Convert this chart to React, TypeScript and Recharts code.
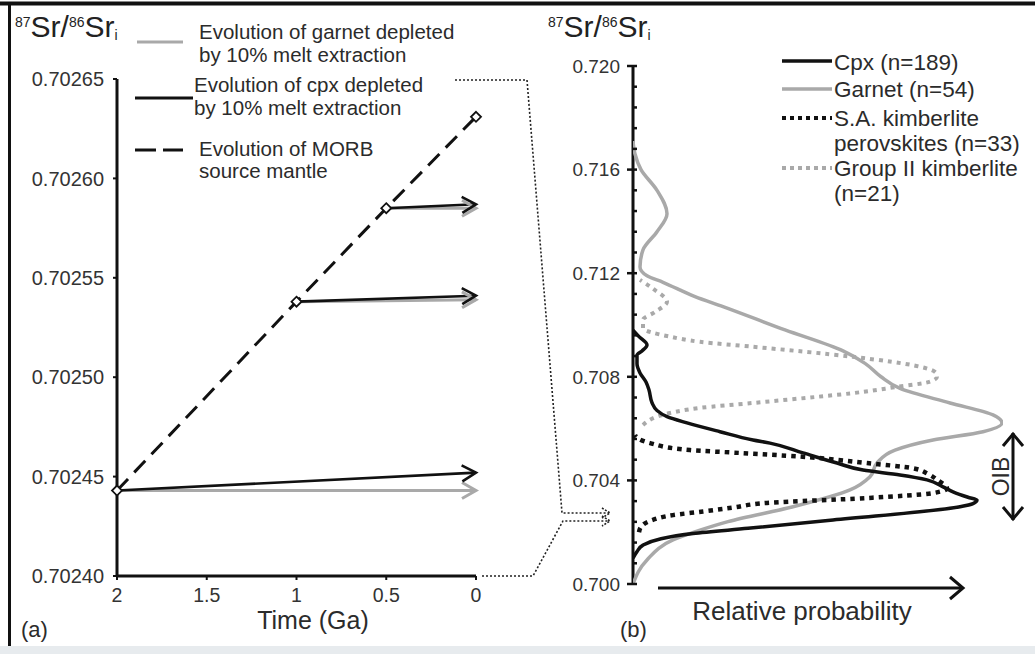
import React from 'react';
import { LineChart, Line, XAxis, YAxis, ScatterChart, Scatter, ReferenceLine } from 'recharts';

const FONT = '"Liberation Sans", Arial, Helvetica, sans-serif';
const BLACK = '#111111';
const GREY = '#a9a9a9';
const TXT = '#2b2b2b';

// ---------- Panel (a): Sr evolution vs time ----------
const timeTicks = [2, 1.5, 1, 0.5, 0];
const srTicksA = [0.7024, 0.70245, 0.7025, 0.70255, 0.7026, 0.70265];
const morbSource = [
  { t: 2, v: 0.702443 },
  { t: 1, v: 0.702538 },
  { t: 0.5, v: 0.702585 },
  { t: 0, v: 0.702631 },
];
const cpxFrom2Ga = [{ t: 2, v: 0.702443 }, { t: 0, v: 0.702452 }];
const cpxFrom1Ga = [{ t: 1, v: 0.702538 }, { t: 0, v: 0.702541 }];
const cpxFrom05Ga = [{ t: 0.5, v: 0.702585 }, { t: 0, v: 0.702587 }];
const grtFrom2Ga = [{ t: 2, v: 0.702443 }, { t: 0, v: 0.702443 }];
const grtFrom1Ga = [{ t: 1, v: 0.702538 }, { t: 0, v: 0.702539 }];
const grtFrom05Ga = [{ t: 0.5, v: 0.702585 }, { t: 0, v: 0.702585 }];

// ---------- Panel (b): relative probability curves ----------
const srTicksB = [0.7, 0.7008, 0.7016, 0.7024, 0.7032, 0.704, 0.7048, 0.7056, 0.7064, 0.7072, 0.708, 0.7088,
  0.7096, 0.7104, 0.7112, 0.712, 0.7128, 0.7136, 0.7144, 0.7152, 0.716, 0.7168, 0.7176, 0.7184, 0.7192, 0.72];

const cpx = [
  { v: 0.701, p: 0 }, { v: 0.70125, p: 4 }, { v: 0.7015, p: 10 }, { v: 0.70175, p: 28 }, { v: 0.70195, p: 60 },
  { v: 0.70215, p: 115 }, { v: 0.70247, p: 200 }, { v: 0.70298, p: 327 }, { v: 0.7031, p: 340 }, { v: 0.70324, p: 344 },
  { v: 0.70335, p: 335 }, { v: 0.70356, p: 320 }, { v: 0.70375, p: 310 }, { v: 0.70402, p: 294 }, { v: 0.70421, p: 267 },
  { v: 0.7044, p: 230 }, { v: 0.70467, p: 204 }, { v: 0.70506, p: 170 }, { v: 0.70544, p: 137 }, { v: 0.70556, p: 120 },
  { v: 0.70588, p: 87 }, { v: 0.70622, p: 54 }, { v: 0.70646, p: 34 }, { v: 0.7067, p: 24 }, { v: 0.707, p: 19 },
  { v: 0.70749, p: 16 }, { v: 0.7078, p: 13 }, { v: 0.70815, p: 7 }, { v: 0.7085, p: 4 }, { v: 0.70884, p: 4 },
  { v: 0.709, p: 9 }, { v: 0.70923, p: 14 }, { v: 0.70955, p: 6 }, { v: 0.7098, p: 0 },
];
const garnet = [
  { v: 0.7, p: 0 }, { v: 0.70093, p: 14 }, { v: 0.7017, p: 40 }, { v: 0.70208, p: 67 }, { v: 0.70241, p: 95 },
  { v: 0.70298, p: 160 }, { v: 0.70363, p: 217 }, { v: 0.70414, p: 237 }, { v: 0.70467, p: 244 }, { v: 0.70517, p: 262 },
  { v: 0.70556, p: 300 }, { v: 0.70588, p: 350 }, { v: 0.70622, p: 369 }, { v: 0.70653, p: 360 }, { v: 0.70699, p: 317 },
  { v: 0.70755, p: 267 }, { v: 0.708, p: 248 }, { v: 0.70852, p: 232 }, { v: 0.709, p: 210 }, { v: 0.70981, p: 152 },
  { v: 0.71071, p: 90 }, { v: 0.7111, p: 62 }, { v: 0.71165, p: 30 }, { v: 0.7119, p: 14 }, { v: 0.71224, p: 7 },
  { v: 0.7129, p: 10 }, { v: 0.7136, p: 24 }, { v: 0.7143, p: 34 }, { v: 0.7152, p: 24 }, { v: 0.716, p: 8 },
  { v: 0.7166, p: 2 }, { v: 0.7171, p: 0 },
];
const saPerovskite = [
  { v: 0.702, p: 6 }, { v: 0.7022, p: 8 }, { v: 0.70245, p: 18 }, { v: 0.70266, p: 40 }, { v: 0.7028, p: 70 },
  { v: 0.70295, p: 100 }, { v: 0.70313, p: 134 }, { v: 0.70332, p: 234 }, { v: 0.70351, p: 300 }, { v: 0.7037, p: 314 },
  { v: 0.704, p: 305 }, { v: 0.70425, p: 295 }, { v: 0.70447, p: 280 }, { v: 0.70467, p: 234 }, { v: 0.70492, p: 167 },
  { v: 0.70506, p: 107 }, { v: 0.70517, p: 57 }, { v: 0.70544, p: 17 }, { v: 0.70565, p: 4 }, { v: 0.70575, p: 2 },
];
const groupII = [
  { v: 0.70614, p: 10 }, { v: 0.7066, p: 37 }, { v: 0.7068, p: 67 }, { v: 0.70699, p: 120 }, { v: 0.70723, p: 185 },
  { v: 0.70737, p: 220 }, { v: 0.7076, p: 262 }, { v: 0.70781, p: 297 }, { v: 0.708, p: 304 }, { v: 0.70815, p: 303 },
  { v: 0.70839, p: 287 }, { v: 0.70877, p: 220 }, { v: 0.70916, p: 120 }, { v: 0.70935, p: 67 }, { v: 0.70955, p: 37 },
  { v: 0.70988, p: 10 }, { v: 0.7102, p: 10 }, { v: 0.7105, p: 22 }, { v: 0.7109, p: 34 }, { v: 0.7114, p: 20 },
  { v: 0.71174, p: 7 },
];
const oibRange = [0.70247, 0.70583];
const oibP = 380;

// ---------- helpers ----------
const makeArrowDot = (color: string, width: number, n: number) => (props: any) => {
  const { cx, cy, index, points } = props;
  const k = `ad-${index}`;
  if (index !== n - 1 || cx == null) return <g key={k} />;
  let ang = 0;
  if (points && points[index - 1]) {
    const prev = points[index - 1];
    ang = Math.atan2(cy - prev.y, cx - prev.x);
  }
  const L = 14, W = 8;
  const c = Math.cos(ang), s = Math.sin(ang);
  const bx = cx - L * c, by = cy - L * s;
  const pts = `${bx - W * s},${by + W * c} ${cx},${cy} ${bx + W * s},${by - W * c}`;
  return <polyline key={k} points={pts} fill="none" stroke={color} strokeWidth={width} strokeLinejoin="miter" />;
};

const DiamondDot = (props: any) => {
  const { cx, cy, index } = props;
  if (cx == null) return <g key={`dd-${index}`} />;
  const r = 5;
  return (
    <polygon key={`dd-${index}`} points={`${cx},${cy - r} ${cx + r},${cy} ${cx},${cy + r} ${cx - r},${cy}`}
      fill="#fff" stroke={BLACK} strokeWidth={1.8} />
  );
};

const isMajorB = (v: number) => Math.abs(v * 250 - Math.round(v * 250)) < 1e-6;

const RightTick = (props: any) => {
  const { x, y, payload } = props;
  const v = payload.value;
  const ax = x + 13;
  const major = isMajorB(v);
  return (
    <g>
      {major ? (
        <line x1={ax - 6} y1={y} x2={ax + 4} y2={y} stroke={BLACK} strokeWidth={2.5} />
      ) : (
        <line x1={ax} y1={y} x2={ax + 4} y2={y} stroke={BLACK} strokeWidth={2.5} />
      )}
      {major && (
        <text x={x} y={y} dy="0.355em" textAnchor="end" fontSize={19} fontFamily={FONT} fill="#333">
          {v.toFixed(3)}
        </text>
      )}
    </g>
  );
};

const EmptyShape = () => <g />;

const OibArrow = (props: any) => {
  const { x1, y1, x2, y2 } = props;
  const x = x1;
  const top = Math.min(y1, y2), bot = Math.max(y1, y2);
  const mid = (top + bot) / 2;
  const tx = x - 4;
  return (
    <g>
      <line x1={x} y1={top} x2={x} y2={bot} stroke={BLACK} strokeWidth={3} />
      <polyline points={`${x - 10},${top + 13} ${x},${top + 1} ${x + 10},${top + 13}`} fill="none" stroke={BLACK} strokeWidth={3} />
      <polyline points={`${x - 10},${bot - 13} ${x},${bot - 1} ${x + 10},${bot - 13}`} fill="none" stroke={BLACK} strokeWidth={3} />
      <text x={tx} y={mid} transform={`rotate(-90 ${tx} ${mid})`} textAnchor="middle" fontSize={23} fontFamily={FONT} fill={TXT}>OIB</text>
    </g>
  );
};

const SrLabel = ({ x, y }: { x: number; y: number }) => (
  <text x={x} y={y} fontFamily={FONT} fill="#222">
    <tspan fontSize={14} dy={-10}>87</tspan>
    <tspan fontSize={30} dy={10}>Sr/</tspan>
    <tspan fontSize={14} dy={-10}>86</tspan>
    <tspan fontSize={30} dy={10}>Sr</tspan>
    <tspan fontSize={14} dy={3}>i</tspan>
  </text>
);

const Overlay = () => (
  <svg width={1035} height={654} style={{ position: 'absolute', left: 0, top: 0, pointerEvents: 'none' }}>
    {/* frame */}
    <line x1={0} y1={3.5} x2={1035} y2={3.5} stroke={BLACK} strokeWidth={4} />
    <line x1={9.5} y1={2} x2={9.5} y2={646} stroke={BLACK} strokeWidth={3} />
    <rect x={0} y={646} width={1035} height={8} fill="#e7ebee" />

    {/* titles */}
    <SrLabel x={15} y={37} />
    <SrLabel x={548} y={37} />

    {/* legend panel (a) */}
    <line x1={137} y1={42} x2={183} y2={42} stroke={GREY} strokeWidth={3} />
    <text x={199} y={39} fontSize={20.5} fontFamily={FONT} fill={TXT}>Evolution of garnet depleted</text>
    <text x={199} y={62} fontSize={20.5} fontFamily={FONT} fill={TXT}>by 10% melt extraction</text>
    <line x1={135} y1={98} x2={193} y2={98} stroke={BLACK} strokeWidth={3} />
    <text x={194} y={92} fontSize={20.5} fontFamily={FONT} fill={TXT}>Evolution of cpx depleted</text>
    <text x={194} y={115} fontSize={20.5} fontFamily={FONT} fill={TXT}>by 10% melt extraction</text>
    <line x1={135} y1={150} x2={183} y2={150} stroke={BLACK} strokeWidth={3} strokeDasharray="21 7" />
    <text x={199} y={156} fontSize={20.5} fontFamily={FONT} fill={TXT}>Evolution of MORB</text>
    <text x={199} y={178} fontSize={20.5} fontFamily={FONT} fill={TXT}>source mantle</text>

    {/* legend panel (b) */}
    <line x1={782} y1={61} x2={832} y2={61} stroke={BLACK} strokeWidth={3.5} />
    <text x={834} y={70} fontSize={22.5} fontFamily={FONT} fill={TXT}>Cpx (n=189)</text>
    <line x1={782} y1={89} x2={832} y2={89} stroke={GREY} strokeWidth={3.5} />
    <text x={834} y={97} fontSize={22.5} fontFamily={FONT} fill={TXT}>Garnet (n=54)</text>
    <line x1={782} y1={118} x2={832} y2={118} stroke={BLACK} strokeWidth={4} strokeDasharray="4 4" />
    <text x={834} y={126} fontSize={22.5} fontFamily={FONT} fill={TXT}>S.A. kimberlite</text>
    <text x={834} y={151} fontSize={22.5} fontFamily={FONT} fill={TXT}>perovskites (n=33)</text>
    <line x1={782} y1={168} x2={832} y2={168} stroke={GREY} strokeWidth={4} strokeDasharray="4 4" />
    <text x={834} y={176} fontSize={22.5} fontFamily={FONT} fill={TXT}>Group II kimberlite</text>
    <text x={834} y={201} fontSize={22.5} fontFamily={FONT} fill={TXT}>(n=21)</text>

    {/* axis titles & panel letters */}
    <text x={313} y={629} textAnchor="middle" fontSize={25} fontFamily={FONT} fill={TXT}>Time (Ga)</text>
    <text x={21} y={637} fontSize={22} fontFamily={FONT} fill={TXT}>(a)</text>
    <text x={620} y={637} fontSize={22} fontFamily={FONT} fill={TXT}>(b)</text>
    <line x1={658} y1={588} x2={962} y2={588} stroke={BLACK} strokeWidth={3} />
    <polyline points="950,577 963,588 950,599" fill="none" stroke={BLACK} strokeWidth={3} />
    <text x={802} y={620} textAnchor="middle" fontSize={26} fontFamily={FONT} fill={TXT}>Relative probability</text>

    {/* dotted connectors between the panels */}
    <polyline points="455,80 527,80 562,513 609,513" fill="none" stroke="#222" strokeWidth={1.6} strokeDasharray="2 2" />
    <polyline points="482,576 533,576 563,521 609,521" fill="none" stroke="#222" strokeWidth={1.6} strokeDasharray="2 2" />
    <polyline points="602,508 610,513 602,518" fill="none" stroke="#222" strokeWidth={1.6} strokeDasharray="2 1.5" />
    <polyline points="602,516 610,521 602,526" fill="none" stroke="#222" strokeWidth={1.6} strokeDasharray="2 1.5" />
  </svg>
);

export default function App() {
  const lineCommon = { type: 'linear' as const, isAnimationActive: false, activeDot: false, dataKey: 'v' };
  return (
    <div style={{ position: 'absolute', left: 0, top: 0, width: 1035, height: 654, background: '#fff', overflow: 'hidden', fontFamily: FONT }}>
      <div style={{ position: 'absolute', left: 0, top: 0 }}>
        <LineChart width={520} height={654} margin={{ top: 79, right: 44, bottom: 48, left: 57 }}>
          <XAxis type="number" dataKey="t" domain={[0, 2]} reversed ticks={timeTicks} interval={0}
            height={30} tickSize={4} tickMargin={8}
            axisLine={{ stroke: BLACK, strokeWidth: 3 }} tickLine={{ stroke: BLACK, strokeWidth: 2 }}
            tick={{ fill: '#333', fontSize: 19.5, fontFamily: FONT }} />
          <YAxis type="number" domain={[0.7024, 0.70265]} ticks={srTicksA} interval={0} width={60}
            tickSize={4} tickMargin={9} tickFormatter={(v: number) => v.toFixed(5)}
            axisLine={{ stroke: BLACK, strokeWidth: 3 }} tickLine={{ stroke: BLACK, strokeWidth: 2 }}
            tick={{ fill: '#333', fontSize: 20, fontFamily: FONT }} />
          <Line {...lineCommon} data={grtFrom2Ga} stroke={GREY} strokeWidth={3} dot={makeArrowDot(GREY, 3, grtFrom2Ga.length)} />
          <Line {...lineCommon} data={grtFrom1Ga} stroke={GREY} strokeWidth={3} dot={makeArrowDot(GREY, 3, grtFrom1Ga.length)} />
          <Line {...lineCommon} data={grtFrom05Ga} stroke={GREY} strokeWidth={3} dot={makeArrowDot(GREY, 3, grtFrom05Ga.length)} />
          <Line {...lineCommon} data={cpxFrom2Ga} stroke={BLACK} strokeWidth={2.6} dot={makeArrowDot(BLACK, 2.6, cpxFrom2Ga.length)} />
          <Line {...lineCommon} data={cpxFrom1Ga} stroke={BLACK} strokeWidth={2.6} dot={makeArrowDot(BLACK, 2.6, cpxFrom1Ga.length)} />
          <Line {...lineCommon} data={cpxFrom05Ga} stroke={BLACK} strokeWidth={2.6} dot={makeArrowDot(BLACK, 2.6, cpxFrom05Ga.length)} />
          <Line {...lineCommon} data={morbSource} stroke={BLACK} strokeWidth={3} strokeDasharray="16 9" dot={DiamondDot} />
        </LineChart>
      </div>
      <div style={{ position: 'absolute', left: 520, top: 0 }}>
        <ScatterChart width={515} height={654} margin={{ top: 66, right: 32, bottom: 70, left: 53 }}>
          <XAxis type="number" dataKey="p" domain={[0, 370]} hide allowDataOverflow />
          <YAxis type="number" dataKey="v" domain={[0.7, 0.72]} ticks={srTicksB} interval={0} allowDataOverflow width={60}
            tickSize={5} tickMargin={8} tickLine={false} axisLine={{ stroke: BLACK, strokeWidth: 3 }} tick={<RightTick />} />
          <Scatter data={groupII} fill={GREY} shape={EmptyShape} isAnimationActive={false} line={{ stroke: GREY, strokeWidth: 4, strokeDasharray: '4 5' }}
            lineType="joint" lineJointType="monotoneY" />
          <Scatter data={garnet} fill={GREY} shape={EmptyShape} isAnimationActive={false} line={{ stroke: GREY, strokeWidth: 3.5 }}
            lineType="joint" lineJointType="monotoneY" />
          <Scatter data={saPerovskite} fill={BLACK} shape={EmptyShape} isAnimationActive={false} line={{ stroke: BLACK, strokeWidth: 4.5, strokeDasharray: '4.5 5' }}
            lineType="joint" lineJointType="monotoneY" />
          <Scatter data={cpx} fill={BLACK} shape={EmptyShape} isAnimationActive={false} line={{ stroke: BLACK, strokeWidth: 3.5 }}
            lineType="joint" lineJointType="monotoneY" />
          <ReferenceLine segment={[{ x: oibP, y: oibRange[1] }, { x: oibP, y: oibRange[0] }]} ifOverflow="visible" shape={OibArrow} />
        </ScatterChart>
      </div>
      <Overlay />
    </div>
  );
}
